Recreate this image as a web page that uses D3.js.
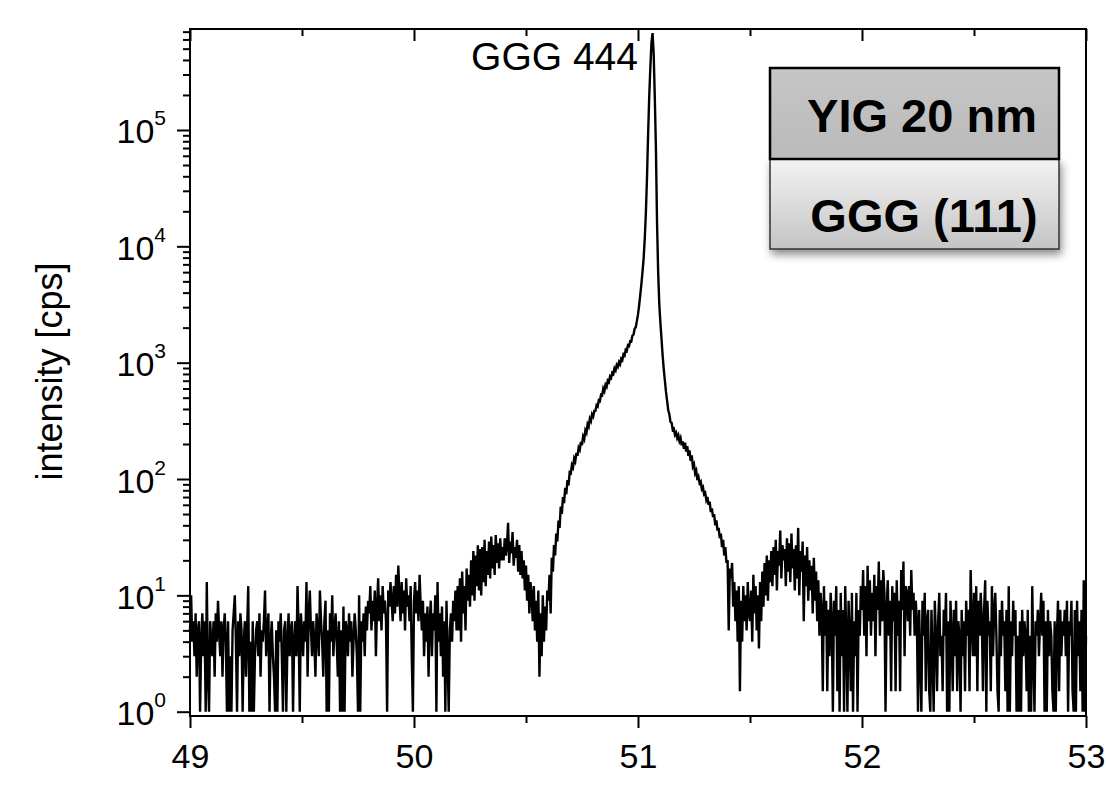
<!DOCTYPE html>
<html>
<head>
<meta charset="utf-8">
<script src="https://cdn.jsdelivr.net/npm/d3@7"></script>
<style>
  body { margin: 0; background: #fff; }
  svg { display: block; font-family: "Liberation Sans", Arial, Helvetica, sans-serif; }
</style>
</head>
<body>
<div id="chart"></div>
<script>
// 2theta scan, 49..53 deg, one point every 0.005 deg
const xStart = 49, xStep = 0.005;

// intensity [cps], region by region
const bgLeft = [
  5, 10, 4, 6, 3, 7, 2, 5, 6, 1, 4, 7, 3, 6, 1, 13, 2, 1, 6, 4,
  3, 6, 2, 7, 4, 9, 5, 3, 6, 2, 5, 7, 4, 1, 6, 1, 3, 1, 5, 7,
  10, 4, 1, 6, 3, 7, 5, 1, 4, 6, 2, 5, 12, 1, 4, 1, 6, 1, 3, 5,
  6, 3, 7, 2, 5, 4, 6, 11, 3, 5, 7, 1, 4, 6, 3, 2, 1, 5, 1, 6,
  4, 7, 3, 1, 5, 6, 1, 4, 7, 3, 5, 6, 1, 4, 6, 3, 12, 5, 1, 7,
  5, 3, 6, 4, 13, 2, 7, 11, 5, 3, 6, 4, 2, 7, 5, 3, 11, 6, 4, 2,
  6, 9, 1, 5, 1, 7, 4, 10, 3, 5, 7, 4, 2, 6, 1, 5, 1, 8, 1, 6,
  5, 3, 7, 4, 6, 2, 4, 7, 5, 3, 1, 10, 1, 6, 4, 7, 3, 8, 5, 9
];
const fringeLeft = [
  7, 12, 5, 9, 6, 11, 3, 8, 14, 6, 10, 5, 12, 7, 9, 6, 1, 11, 8, 13,
  9, 6, 12, 7, 15, 8, 18, 10, 6, 13, 7, 11, 5, 14, 8, 10, 6, 12, 3, 1,
  9, 13, 7, 11, 6, 15, 8, 5, 9, 3, 7, 4, 8, 2, 6, 9, 3, 7, 5, 10,
  1, 13, 4, 7, 3, 8, 2, 6, 1, 9, 3, 1, 5, 7, 4, 9, 6, 11, 5, 12,
  5, 14, 4, 16, 7, 12, 5, 17, 9, 15, 8, 20, 10, 24, 9, 22, 12, 27, 11, 25,
  10, 26, 13, 30, 12, 24, 15, 29, 14, 32, 17, 27, 15, 33, 19, 28, 17, 31, 20, 26,
  20, 31, 22, 27, 42, 19, 29, 23, 35, 18, 26, 21, 30, 16, 27, 15, 24, 14, 20, 11,
  18, 9, 15, 7, 13, 10, 6, 12, 5, 9, 4, 11, 2, 7, 3, 10, 4, 8, 5, 11
];
const peak = [
  9, 15, 7, 21, 16, 27, 22, 34, 29, 44, 38, 58, 50, 70, 62, 84, 74, 98, 88, 114,
  112, 132, 126, 150, 142, 168, 158, 186, 178, 208, 196, 232, 220, 262, 250, 296, 282, 330, 315, 360,
  345, 385, 385, 430, 420, 475, 468, 530, 525, 600, 570, 645, 620, 700, 680, 760, 740, 820, 800, 895,
  860, 955, 920, 1010, 970, 1080, 1050, 1180, 1150, 1290, 1265, 1410, 1390, 1530, 1520, 1710, 1740, 1960, 2020, 2280,
  2600, 3100, 3800, 4700, 6000, 7800, 11500, 19000, 38000, 90000, 190000, 340000, 560000, 680000, 450000, 190000, 70000, 16000, 6000, 3200,
  2200, 1600, 1150, 880, 700, 560, 470, 390, 360, 310, 305, 265, 270, 240, 250, 225, 238, 212, 225, 195,
  210, 182, 205, 172, 192, 158, 176, 143, 160, 128, 134, 112, 118, 98, 104, 92, 95, 82, 85, 74,
  76, 66, 70, 60, 64, 52, 56, 47, 50, 40, 44, 36, 38, 31, 34, 26, 30, 22, 26, 19
];
const fringeRight = [
  20, 5, 17, 14, 19, 8, 13, 6, 11, 4, 12, 1.5, 9, 4, 12, 6, 10, 5, 13, 7,
  6, 11, 4, 15, 7, 12, 5, 10, 3.5, 13, 6, 16, 8, 19, 10, 22, 9, 20, 13, 24,
  12, 26, 15, 30, 11, 24, 18, 36, 14, 27, 20, 25, 12, 31, 16, 28, 13, 34, 17, 25,
  11, 27, 14, 38, 10, 24, 16, 29, 6, 22, 12, 26, 9, 20, 11, 18, 7, 21, 9, 16,
  6, 13.5, 4.5, 10.5, 7.5, 1.5, 12, 4.5, 9, 1.5, 7.5, 3, 10.5, 6, 1, 9, 4.5, 12, 1.5, 7.5,
  1, 10.5, 3, 7.5, 1, 12, 4.5, 1, 9, 4.5, 1.5, 10.5, 1, 6, 3, 10.5, 1, 7.5, 4.5, 12,
  7.5, 16.5, 4.5, 12, 3, 18, 6, 13.5, 4.5, 10.5, 6, 15, 3, 12, 7.5, 19.5, 4.5, 13.5, 6, 16.5,
  10.5, 1, 7.5, 13.5, 4.5, 9, 1.5, 12, 6, 10.5, 1.5, 13.5, 4.5, 9, 1.5, 16.5, 7.5, 19.5, 3, 12
];
const bgRight = [
  10.5, 6, 12, 4.5, 16.5, 7.5, 10.5, 4.5, 9, 6, 1, 7.5, 3, 1, 9, 4.5, 10.5, 1.5, 6, 7.5,
  1.5, 1, 7.5, 3, 1, 9, 4.5, 1.5, 6, 10.5, 3, 4.5, 1.5, 7.5, 4.5, 10.5, 1, 6, 1, 9,
  4.5, 1.5, 7.5, 3, 9, 1.5, 6, 4.5, 1, 7.5, 3, 6, 1.5, 9, 4.5, 7.5, 1.5, 16.5, 6, 3,
  10.5, 3, 12, 1.5, 9, 4.5, 10.5, 6, 1.5, 7.5, 13.5, 1, 9, 4.5, 6, 1.5, 12, 3, 7.5, 10.5,
  4.5, 1.5, 1, 7.5, 3, 9, 4.5, 6, 1.5, 7.5, 1, 12, 1, 6, 3, 9, 4.5, 7.5, 1, 4.5,
  1, 6, 1, 7.5, 3, 6, 4.5, 1.5, 7.5, 1, 4.5, 1, 12, 3, 1, 6, 4.5, 7.5, 3, 6,
  10.5, 4.5, 9, 1, 6, 1, 7.5, 3, 6, 4.5, 1.5, 1, 6, 1, 4.5, 9, 1.5, 7.5, 3, 6,
  4.5, 7.5, 3, 9, 1, 6, 4.5, 9, 1.5, 1, 7.5, 1, 9, 3, 6, 1.5, 7.5, 1, 13.5, 1,
  4.5
];

const xTicks = [49, 50, 51, 52, 53];
const xMinor = [49.5, 50.5, 51.5, 52.5];
const yTicks = [1, 10, 100, 1000, 10000, 100000];
const yLabel = "intensity [cps]";
const peakName = "GGG 444";
const layers = ["YIG 20 nm", "GGG (111)"];

const width = 1106, height = 801;
const margin = {left: 190, right: 20, top: 29, bottom: 85};

const intensity = bgLeft.concat(fringeLeft, peak, fringeRight, bgRight);
const data = intensity.map((v, i) => ({x: xStart + i * xStep, y: v}));

const x = d3.scaleLinear()
    .domain([49, 53])
    .range([margin.left, width - margin.right]);

const y = d3.scaleLog()
    .domain([Math.pow(10, -0.037), Math.pow(10, 5.868)])
    .range([height - margin.bottom, margin.top]);

const yMinor = [];
for (let k = 0; k <= 5; k++)
    for (let m = 2; m <= 9; m++)
        if (m * Math.pow(10, k) < y.domain()[1]) yMinor.push(m * Math.pow(10, k));

const svg = d3.select("#chart").append("svg")
    .attr("width", width)
    .attr("height", height);

// trace
svg.append("path")
    .datum(data)
    .attr("fill", "none")
    .attr("stroke", "#000")
    .attr("stroke-width", 2.4)
    .attr("d", d3.line().x(d => x(d.x)).y(d => y(d.y)));

// axes
const styleAxis = g => {
    g.select(".domain").remove();
    g.selectAll(".tick line").attr("stroke", "#000").attr("stroke-width", 2);
    g.attr("font-size", null).attr("font-family", null);
};

const bottom = height - margin.bottom;

const gx = svg.append("g")
    .attr("transform", `translate(0,${bottom})`)
    .call(d3.axisBottom(x).tickValues(xTicks).tickSize(12).tickSizeOuter(0).tickFormat(d3.format("d")))
    .call(styleAxis);
gx.selectAll(".tick text")
    .attr("y", 52)
    .attr("dy", null)
    .attr("fill", "#000")
    .style("font-size", "34px");

svg.append("g")
    .attr("transform", `translate(0,${bottom})`)
    .call(d3.axisBottom(x).tickValues(xMinor).tickSize(7).tickFormat(""))
    .call(styleAxis);

// top axis, ticks pointing in
svg.append("g")
    .attr("transform", `translate(0,${margin.top})`)
    .call(d3.axisBottom(x).tickValues(xTicks).tickSize(12).tickFormat(""))
    .call(styleAxis);
svg.append("g")
    .attr("transform", `translate(0,${margin.top})`)
    .call(d3.axisBottom(x).tickValues(xMinor).tickSize(7).tickFormat(""))
    .call(styleAxis);

const gy = svg.append("g")
    .attr("transform", `translate(${margin.left},0)`)
    .call(d3.axisLeft(y).tickValues(yTicks).tickSize(13).tickFormat(""))
    .call(styleAxis);
gy.selectAll(".tick text")
    .attr("x", -24)
    .attr("dy", null)
    .attr("y", 13)
    .attr("fill", "#000")
    .style("font-size", "34px")
    .each(function(d) {
        const t = d3.select(this);
        t.append("tspan").text("10");
        t.append("tspan")
            .attr("dy", -18)
            .style("font-size", "21px")
            .text(Math.round(Math.log10(d)));
    });

svg.append("g")
    .attr("transform", `translate(${margin.left},0)`)
    .call(d3.axisLeft(y).tickValues(yMinor).tickSize(7).tickFormat(""))
    .call(styleAxis);

// frame
svg.append("rect")
    .attr("x", margin.left)
    .attr("y", margin.top)
    .attr("width", width - margin.left - margin.right)
    .attr("height", height - margin.top - margin.bottom)
    .attr("fill", "none")
    .attr("stroke", "#000")
    .attr("stroke-width", 2);

// axis title
svg.append("text")
    .attr("transform", `translate(62,${(margin.top + bottom) / 2 - 1}) rotate(-90)`)
    .attr("text-anchor", "middle")
    .style("font-size", "36px")
    .text(yLabel);

// peak label
svg.append("text")
    .attr("x", x(51))
    .attr("y", margin.top + 41)
    .attr("text-anchor", "end")
    .style("font-size", "39px")
    .text(peakName);

// layer stack sketch
const defs = svg.append("defs");
const g1 = defs.append("linearGradient").attr("id", "topFill")
    .attr("x1", 0).attr("y1", 0).attr("x2", 0).attr("y2", 1);
g1.append("stop").attr("offset", "0%").attr("stop-color", "#c6c6c6");
g1.append("stop").attr("offset", "100%").attr("stop-color", "#bababa");
const g2 = defs.append("linearGradient").attr("id", "botFill")
    .attr("x1", 0).attr("y1", 0).attr("x2", 0).attr("y2", 1);
g2.append("stop").attr("offset", "0%").attr("stop-color", "#f3f3f3");
g2.append("stop").attr("offset", "100%").attr("stop-color", "#c4c4c4");
defs.append("filter").attr("id", "shadow")
    .attr("x", "-10%").attr("y", "-10%").attr("width", "130%").attr("height", "140%")
    .append("feDropShadow")
    .attr("dx", 2).attr("dy", 5).attr("stdDeviation", 4)
    .attr("flood-color", "#000").attr("flood-opacity", 0.45);

const box = {x: 770, y: 68, w: 289, h1: 91, h2: 90};
const stack = svg.append("g");
stack.append("rect")
    .attr("x", box.x).attr("y", box.y + box.h1)
    .attr("width", box.w).attr("height", box.h2)
    .attr("fill", "url(#botFill)")
    .attr("stroke", "#333")
    .attr("stroke-width", 1.5)
    .attr("filter", "url(#shadow)");
stack.append("rect")
    .attr("x", box.x).attr("y", box.y)
    .attr("width", box.w).attr("height", box.h1)
    .attr("fill", "url(#topFill)")
    .attr("stroke", "#000")
    .attr("stroke-width", 2.5);
stack.selectAll("text.layer")
    .data(layers)
    .join("text")
    .attr("class", "layer")
    .attr("x", (d, i) => i === 0 ? 922 : 924)
    .attr("y", (d, i) => i === 0 ? 132 : 232)
    .attr("text-anchor", "middle")
    .style("font-size", "47px")
    .style("font-weight", "bold")
    .text(d => d);
</script>
</body>
</html>
